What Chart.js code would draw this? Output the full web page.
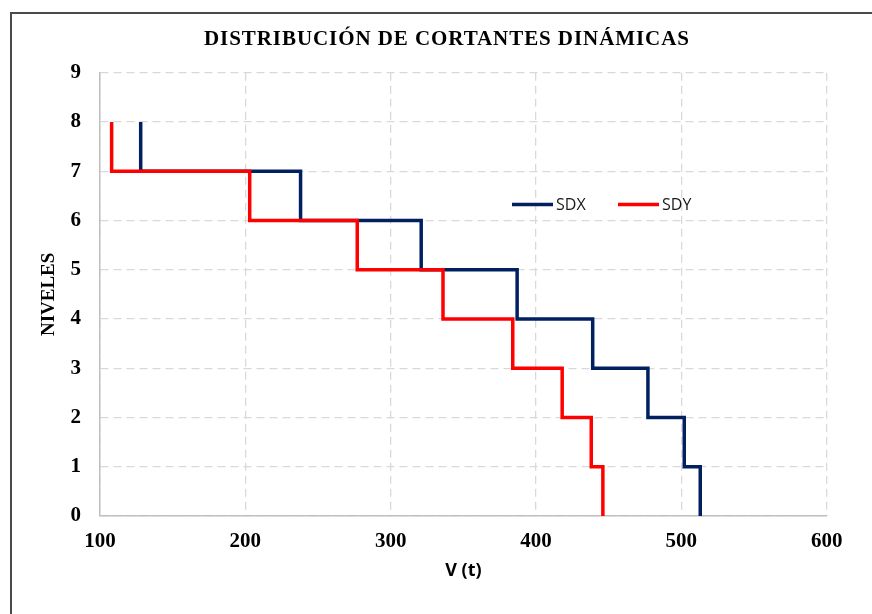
<!DOCTYPE html>
<html>
<head>
<meta charset="utf-8">
<title>Distribución de cortantes dinámicas</title>
<script src="https://cdn.jsdelivr.net/npm/chart.js@4.4.1/dist/chart.umd.min.js"></script>
<style>
  html, body { margin: 0; padding: 0; background: #ffffff; overflow: hidden; }
  #wrap { position: relative; width: 872px; height: 614px; overflow: hidden; }
  #frame { position: absolute; left: 10px; top: 12px; width: 900px; height: 640px;
           border-top: 2px solid #4a4a4a; border-left: 2px solid #4a4a4a; pointer-events: none; }
  canvas { position: absolute; left: 0; top: 0; }
</style>
</head>
<body>
<div id="wrap">
  <canvas id="myChart" width="872" height="614"></canvas>
  <div id="frame"></div>
</div>
<script>
'use strict';

// Datos: cortante por nivel (nivel 0-1, 1-2, ... 7-8)
const niveles = [0, 1, 2, 3, 4, 5, 6, 7, 8];
const sdx = [513, 502, 477, 439, 387, 321, 238, 128];
const sdy = [446, 438, 418, 384, 336, 277, 203, 108];
const xTicks = [100, 200, 300, 400, 500, 600];
const chartTitle = 'DISTRIBUCIÓN DE CORTANTES DINÁMICAS';
const seriesNames = ['SDX', 'SDY'];
const seriesColors = ['#002060', '#ff0000'];

// Construir los puntos de la escalera: un punto por nivel, el ultimo repite el valor
function stepPoints(values) {
  var pts = [];
  for (var i = 0; i < niveles.length; i++) {
    pts.push({ x: values[Math.min(i, values.length - 1)], y: niveles[i] });
  }
  return pts;
}

// Titulo y leyenda dibujados a mano (la leyenda va dentro del area del grafico)
const titleLegendPlugin = {
  id: 'titleLegend',
  afterDraw: function (chart) {
    const ctx = chart.ctx;
    ctx.save();
    // titulo
    ctx.font = 'bold 21px "Liberation Serif", "Times New Roman", serif';
    ctx.fillStyle = '#000000';
    ctx.textBaseline = 'middle';
    ctx.textAlign = 'left';
    const natural = ctx.measureText(chartTitle).width;
    const target = 485;
    ctx.letterSpacing = Math.max(0, (target - natural) / (chartTitle.length - 1)).toFixed(2) + 'px';
    ctx.fillText(chartTitle, 204, 40);
    ctx.letterSpacing = '0px';

    // leyenda
    const items = [{ x0: 512, x1: 553 }, { x0: 618, x1: 659 }];
    ctx.font = '16px "Open Sans", sans-serif';
    chart.data.datasets.forEach(function (ds, i) {
      const it = items[i];
      ctx.strokeStyle = ds.borderColor;
      ctx.lineWidth = 3.5;
      ctx.lineCap = 'butt';
      ctx.beginPath();
      ctx.moveTo(it.x0, 204.5);
      ctx.lineTo(it.x1, 204.5);
      ctx.stroke();
      ctx.fillStyle = '#1a1a1a';
      ctx.fillText(ds.label, it.x1 + 3, 205);
    });
    ctx.restore();
  }
};

const gridColor = '#d9d9d9';
const axisColor = '#bfbfbf';
const tickFont = { family: '"Liberation Serif", "Times New Roman", serif', size: 21, weight: 'bold' };

new Chart(document.getElementById('myChart'), {
  type: 'scatter',
  data: {
    datasets: [
      { label: seriesNames[0], data: stepPoints(sdx), borderColor: seriesColors[0], backgroundColor: seriesColors[0], order: 2 },
      { label: seriesNames[1], data: stepPoints(sdy), borderColor: seriesColors[1], backgroundColor: seriesColors[1], order: 1 }
    ]
  },
  options: {
    responsive: false,
    animation: false,
    showLine: true,
    elements: {
      line: { stepped: 'after', borderWidth: 3.5, borderJoinStyle: 'miter', borderCapStyle: 'butt', tension: 0 },
      point: { radius: 0, hoverRadius: 0 }
    },
    layout: { padding: { top: 72.7, right: 45.3, left: 0, bottom: 0 } },
    plugins: {
      legend: { display: false },
      title: { display: false },
      tooltip: { enabled: false }
    },
    scales: {
      x: {
        type: 'linear',
        min: xTicks[0],
        max: xTicks[xTicks.length - 1],
        afterBuildTicks: function (scale) { scale.ticks = xTicks.map(function (v) { return { value: v }; }); },
        afterFit: function (scale) { scale.height = 98; },
        ticks: { color: '#000000', font: tickFont, padding: 13, maxRotation: 0 },
        grid: { color: gridColor, lineWidth: 1.3, drawTicks: false },
        border: { display: true, color: axisColor, width: 1.5, dash: [8, 5] },
        title: { display: true, text: 'V (t)', color: '#000000',
                 font: { family: '"Open Sans", sans-serif', size: 18, weight: 'bold' },
                 padding: { top: 0, bottom: 32 } }
      },
      y: {
        type: 'linear',
        min: 0,
        max: 9,
        afterFit: function (scale) { scale.width = 100; },
        ticks: { stepSize: 1, color: '#000000', font: tickFont, padding: 19 },
        grid: { color: gridColor, lineWidth: 1.3, drawTicks: false },
        border: { display: true, color: axisColor, width: 1.5, dash: [8, 5] },
        title: { display: true, text: 'NIVELES', color: '#000000',
                 font: { family: '"Liberation Serif", "Times New Roman", serif', size: 19, weight: 'bold' },
                 padding: { top: 38, bottom: 0 } }
      }
    }
  },
  plugins: [titleLegendPlugin]
});
</script>
</body>
</html>
